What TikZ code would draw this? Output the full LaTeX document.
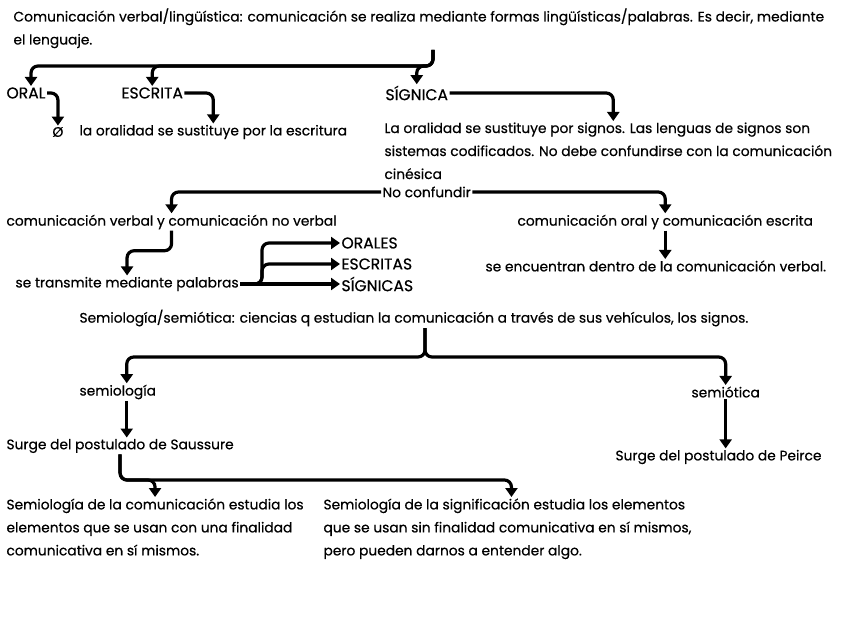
\documentclass[tikz,border=0pt]{standalone}
\usepackage{fontspec}
\setmainfont{Poppins}[FakeBold=0.5]
\usetikzlibrary{arrows.meta}

\tikzset{
  txt/.style={anchor=west, inner sep=0pt, outer sep=1.5pt, font=\fontsize{13.8}{23}\selectfont},
  caps/.style={txt, font=\fontsize{15.6}{20}\selectfont},
  para/.style={anchor=north west, inner sep=0pt, outer sep=1.5pt, align=left, font=\fontsize{13.8}{23}\selectfont},
  link/.style={line width=3.2pt, rounded corners=7pt, -{Triangle[width=12pt,length=9pt]}},
}

\begin{document}
\begin{tikzpicture}[x=1pt,y=-1pt]
\useasboundingbox (0,0) rectangle (848,636);
\node[para] (title) at (12,7) {Comunicación verbal/lingüística: comunicación se realiza mediante formas lingüísticas/palabras. Es decir, mediante\\el lenguaje.};
\node[caps] (oral) at (5,93) {ORAL};
\node[caps] (escrita) at (120,93) {ESCRITA};
\node[caps] (signica) at (384,93) {SÍGNICA};
\node[txt] (vacio) at (51,132) {Ø};
\node[txt] (escritura) at (78,132) {la oralidad se sustituye por la escritura};
\node[para] (signos) at (383,121) {La oralidad se sustituye por signos. Las lenguas de signos son\\sistemas codificados. No debe confundirse con la comunicación\\cinésica};
\node[txt] (nocf) at (381,192) {No confundir};
\node[txt] (verbal) at (5,222) {comunicación verbal y comunicación no verbal};
\node[txt] (transmite) at (14,284) {se transmite mediante palabras};
\node[caps] (orales) at (340,243) {ORALES};
\node[caps] (escritas) at (340,264) {ESCRITAS};
\node[caps] (signicas) at (340,284) {SÍGNICAS};
\node[txt] (oralesc) at (516,222) {comunicación oral y comunicación escrita};
\node[txt] (dentro) at (484,266) {se encuentran dentro de la comunicación verbal.};
\node[txt] (semio) at (78,318) {Semiología/semiótica: ciencias q estudian la comunicación a través de sus vehículos, los signos.};
\node[txt] (semiologia) at (78,392) {semiología};
\node[txt] (semiotica) at (690,392) {semiótica};
\node[txt] (saussure) at (5,446) {Surge del postulado de Saussure};
\node[txt] (peirce) at (614,457) {Surge del postulado de Peirce};
\node[para] (comu) at (5,497) {Semiología de la comunicación estudia los\\elementos que se usan con una finalidad\\comunicativa en sí mismos.};
\node[para] (signif) at (322,497) {Semiología de la significación estudia los elementos\\que se usan sin finalidad comunicativa en sí mismos,\\pero pueden darnos a entender algo.};
\coordinate (br1) at (433,50);
\coordinate (br2) at (425,328);
\draw[link] (br1) -- (433,66) -| ([xshift=5pt]oral.north);
\draw[link] (br1) -- (433,66) -| (escrita.north);
\draw[link] (br1) -- (433,66) -| (signica.north);
\draw[link] (oral.east) -| (vacio.north);
\draw[link] (escrita.east) -| (escritura.north);
\draw[link] (signica.east) -| ([xshift=5pt]signos.north);
\draw[link] (nocf.west) -| (verbal.north);
\draw[link] (nocf.east) -| (oralesc.north);
\draw[link] (verbal.south) -- ++(0,20) -| (transmite.north);
\draw[link] (transmite.east) -- (262,284) |- (orales.west);
\draw[link] (transmite.east) -- (262,284) |- (escritas.west);
\draw[link] (transmite.east) -- (signicas.west);
\draw[link] (oralesc.south) -- (oralesc.south |- dentro.north);
\draw[link] (br2) -- (425,357) -| ([xshift=9pt]semiologia.north);
\draw[link] (br2) -- (425,357) -| (semiotica.north);
\draw[link] ([xshift=9pt]semiologia.south) -- ([xshift=9pt]semiologia.south |- saussure.north);
\draw[link] (semiotica.south) -- (semiotica.south |- peirce.north);
\draw[link] (saussure.south) -- (saussure.south |- 0,480) -| (comu.north);
\draw[link] (saussure.south) -- (saussure.south |- 0,480) -| ([xshift=4pt]signif.north);
\end{tikzpicture}
\end{document}
